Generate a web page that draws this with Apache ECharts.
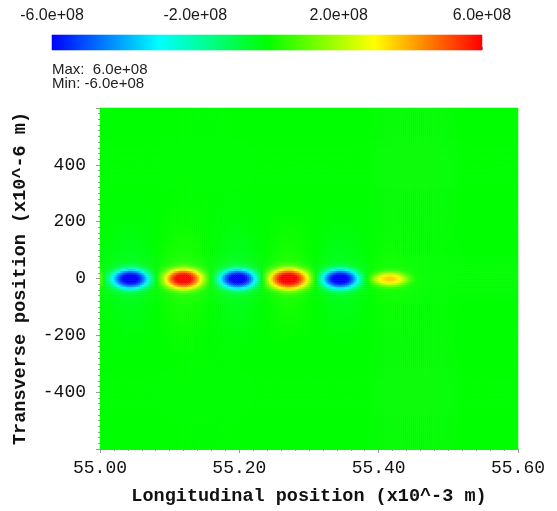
<!DOCTYPE html>
<html><head><meta charset="utf-8">
<script src="https://cdn.jsdelivr.net/npm/echarts@6/dist/echarts.min.js"></script>
<style>html,body{margin:0;padding:0;background:#fff}#c{width:557px;height:511px}</style>
</head><body><div id="c"></div>
<script>
// ---- values ----
const xRange = [55.0, 55.6];          // x10^-3 m
const yRange = [-600, 600];           // x10^-6 m
const xTickStep = 0.2;
const yTickStep = 200;
const colorRange = [-6.0e8, 6.0e8];
const colorTickStep = 4.0e8;
const colorStops = ['#0000ff', '#00ffff', '#00ff00', '#ffff00', '#ff0000'];
// field lobes: centre x (mm), centre y (um), amplitude, width x (mm), width y (um)
const lobeX   = [55.000, 55.044, 55.120, 55.198, 55.271, 55.345, 55.416];
const lobeY   = [0, 0, 0, 0, 0, 0, 0];
const lobeAmp = [1.2e8, -6.0e8, 6.0e8, -6.0e8, 6.0e8, -6.0e8, 3.4e8];
const lobeSx  = [0.005, 0.0215, 0.0215, 0.0215, 0.0230, 0.0215, 0.0200];
const lobeSy  = [25, 28, 28, 28, 29, 28, 19];
// faint broad halos around each lobe
const haloAmp = [0, -4.0e7, 4.0e7, -4.0e7, 4.0e7, -4.0e7, 2.0e7];
const haloSx  = [0.01, 0.026, 0.026, 0.026, 0.026, 0.026, 0.024];
const haloSy  = [50, 120, 120, 120, 120, 120, 100];
const flatness = 1.4;

// ---- build grid of cells from the lobes ----
const NX = 210, NY = 172;
const xCats = [], yCats = [], cells = [];
for (let i = 0; i < NX; i++) xCats.push(i);
for (let j = 0; j < NY; j++) yCats.push(j);
for (let j = 0; j < NY; j++) {
  const y = yRange[0] + (j + 0.5) * (yRange[1] - yRange[0]) / NY;
  for (let i = 0; i < NX; i++) {
    const x = xRange[0] + (i + 0.5) * (xRange[1] - xRange[0]) / NX;
    let v = 0;
    for (let k = 0; k < lobeX.length; k++) {
      const dx = (x - lobeX[k]) / lobeSx[k], dy = (y - lobeY[k]) / lobeSy[k];
      const q = dx * dx + dy * dy;
      v += lobeAmp[k] * Math.exp(-0.5 * Math.pow(q, flatness));
      const hx = (x - lobeX[k]) / haloSx[k], hy = (y - lobeY[k]) / haloSy[k];
      v += haloAmp[k] * Math.exp(-0.5 * (hx * hx + hy * hy));
    }
    v = Math.max(colorRange[0], Math.min(colorRange[1], v));
    cells.push([i, j, v]);
  }
}
// colour bar strip: one cell per step of the colour scale
const NB = 215;
const barCats = [], barCells = [];
for (let i = 0; i < NB; i++) {
  barCats.push(i);
  barCells.push([i, 0, colorRange[0] + (i + 0.5) * (colorRange[1] - colorRange[0]) / NB]);
}

const fmtE = v => {
  const s = v.toExponential(1);
  const m = s.match(/^(-?[\d.]+)e([+-])(\d+)$/);
  return m[1] + 'e' + m[2] + (m[3].length < 2 ? '0' + m[3] : m[3]);
};

const mono = '"Liberation Mono", "DejaVu Sans Mono", monospace';
const sans = '"Liberation Sans", Arial, sans-serif';
const axisGray = '#9a9a9a';

const chart = echarts.init(document.getElementById('c'), null, {renderer: 'canvas'});
chart.setOption({
  animation: false,
  backgroundColor: '#ffffff',
  grid: [
    {left: 100, top: 108, width: 418, height: 344, containLabel: false},
    {left: 52, top: 35, width: 430, height: 15, containLabel: false}
  ],
  xAxis: [
    {type: 'category', gridIndex: 0, data: xCats, show: false, boundaryGap: true},
    {type: 'value', gridIndex: 0, min: xRange[0], max: xRange[1], interval: xTickStep,
     position: 'bottom',
     name: 'Longitudinal position (x10^-3 m)', nameLocation: 'middle', nameGap: 38,
     nameTextStyle: {fontFamily: mono, fontSize: 18.5, fontWeight: 'bold', color: '#111'},
     axisLine: {show: true, lineStyle: {color: axisGray, width: 1}},
     axisTick: {show: true, length: 4, lineStyle: {color: axisGray}},
     minorTick: {show: true, splitNumber: 10, length: 2, lineStyle: {color: axisGray}},
     splitLine: {show: false},
     axisLabel: {fontFamily: mono, fontSize: 18, color: '#111', margin: 10,
       formatter: v => v.toFixed(2)}},
    {type: 'value', gridIndex: 1, min: colorRange[0], max: colorRange[1], interval: colorTickStep,
     position: 'top',
     axisLine: {show: false},
     axisTick: {show: true, length: 3, lineStyle: {color: axisGray}},
     splitLine: {show: false},
     axisLabel: {fontFamily: sans, fontSize: 16, color: '#1a1a1a', margin: 11, formatter: fmtE}},
    {type: 'category', gridIndex: 1, data: barCats, show: false, boundaryGap: true}
  ],
  yAxis: [
    {type: 'category', gridIndex: 0, data: yCats, show: false, boundaryGap: true},
    {type: 'value', gridIndex: 0, min: yRange[0], max: yRange[1], interval: yTickStep,
     position: 'left',
     name: 'Transverse position (x10^-6 m)', nameLocation: 'middle', nameGap: 70,
     nameTextStyle: {fontFamily: mono, fontSize: 18.5, fontWeight: 'bold', color: '#111'},
     axisLine: {show: true, lineStyle: {color: axisGray, width: 1}},
     axisTick: {show: true, length: 4, lineStyle: {color: axisGray}},
     minorTick: {show: true, splitNumber: 10, length: 2, lineStyle: {color: axisGray}},
     splitLine: {show: false},
     axisLabel: {fontFamily: mono, fontSize: 18, color: '#111', margin: 14,
       showMinLabel: false, showMaxLabel: false, formatter: v => String(v)}},
    {type: 'value', gridIndex: 1, show: false, min: 0, max: 1},
    {type: 'category', gridIndex: 1, data: [0], show: false, boundaryGap: true}
  ],
  visualMap: {
    type: 'continuous', seriesIndex: [0, 1], dimension: 2, show: false,
    min: colorRange[0], max: colorRange[1],
    inRange: {color: colorStops}
  },
  graphic: [
    {type: 'text', left: 52, top: 62, style: {text: 'Max:  ' + fmtE(colorRange[1]), font: '15px ' + sans, fill: '#222'}},
    {type: 'text', left: 52, top: 76, style: {text: 'Min: ' + fmtE(colorRange[0]), font: '15px ' + sans, fill: '#222'}}
  ],
  series: [{
    type: 'heatmap', xAxisIndex: 0, yAxisIndex: 0, data: cells,
    progressive: 0, emphasis: {disabled: true}, itemStyle: {borderWidth: 0}
  }, {
    type: 'heatmap', xAxisIndex: 3, yAxisIndex: 3, data: barCells,
    progressive: 0, emphasis: {disabled: true}, itemStyle: {borderWidth: 0}
  }]
});
</script></body></html>
